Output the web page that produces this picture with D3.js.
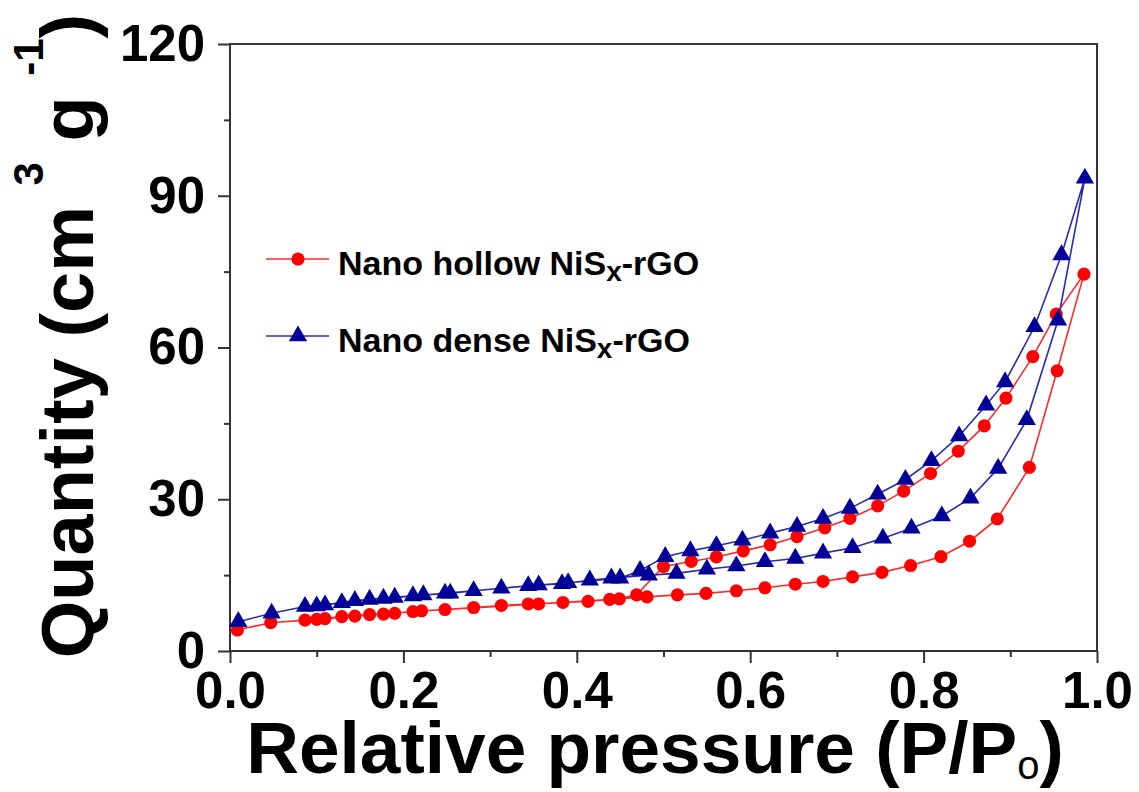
<!DOCTYPE html>
<html>
<head>
<meta charset="utf-8">
<script src="https://cdn.jsdelivr.net/npm/d3@7"></script>
<style>
  body { margin: 0; background: #fff; }
  svg { display: block; font-family: "Liberation Sans", Arial, sans-serif; }
  .tick text { font-weight: bold; fill: #000; }
</style>
</head>
<body>
<div id="chart"></div>
<script>
// Nano hollow NiSx-rGO, [P/Po, quantity]
const hollowAdsorption = [
  [0.0085, 4.15], [0.047, 5.6], [0.0865, 6.1], [0.1096, 6.4], [0.129, 6.8], [0.161, 7.2],
  [0.190, 7.45], [0.221, 7.95], [0.248, 8.2], [0.281, 8.6], [0.313, 9.0], [0.344, 9.3],
  [0.384, 9.6], [0.413, 9.8], [0.438, 10.2], [0.481, 10.7], [0.516, 11.1], [0.549, 11.4],
  [0.584, 11.9], [0.617, 12.5], [0.652, 13.2], [0.684, 13.75], [0.718, 14.65], [0.752, 15.55],
  [0.785, 16.9], [0.820, 18.65], [0.853, 21.7], [0.885, 26.1], [0.922, 36.3], [0.954, 55.4],
  [0.985, 74.5]
];
const hollowDesorption = [
  [0.953, 66.6], [0.926, 58.2], [0.895, 50.0], [0.870, 44.5], [0.840, 39.5], [0.808, 35.1],
  [0.777, 31.6], [0.747, 28.7], [0.715, 26.2], [0.686, 24.35], [0.654, 22.6], [0.623, 21.0],
  [0.592, 19.8], [0.561, 18.6], [0.532, 17.7], [0.500, 16.7], [0.469, 11.1], [0.449, 10.3],
  [0.356, 9.3], [0.211, 7.8], [0.177, 7.3], [0.144, 6.9], [0.100, 6.26]
];

// Nano dense NiSx-rGO
const denseAdsorption = [
  [0.0096, 5.8], [0.048, 7.45], [0.0865, 8.8], [0.1096, 9.1], [0.129, 9.55], [0.161, 10.2],
  [0.190, 10.6], [0.223, 11.1], [0.254, 11.4], [0.281, 11.9], [0.313, 12.4], [0.344, 12.9],
  [0.383, 13.3], [0.415, 14.0], [0.440, 14.4], [0.483, 15.0], [0.515, 15.35], [0.550, 16.15],
  [0.584, 16.8], [0.617, 17.65], [0.652, 18.3], [0.684, 19.35], [0.718, 20.4], [0.753, 22.3],
  [0.786, 24.25], [0.821, 26.7], [0.854, 30.2], [0.886, 36.1], [0.919, 45.7], [0.955, 65.4],
  [0.986, 93.45]
];
const denseDesorption = [
  [0.959, 78.3], [0.928, 64.1], [0.894, 53.2], [0.872, 48.6], [0.841, 42.5], [0.809, 37.6],
  [0.779, 33.9], [0.747, 31.0], [0.715, 28.2], [0.684, 26.2], [0.654, 24.6], [0.623, 23.3],
  [0.591, 21.9], [0.561, 20.8], [0.531, 19.8], [0.502, 18.65], [0.473, 15.9], [0.450, 14.4],
  [0.390, 13.5], [0.356, 13.05], [0.248, 11.4], [0.211, 10.9], [0.177, 10.4], [0.144, 9.95],
  [0.100, 8.9]
];

// Ticks
const xMajorTicks = [0, 0.2, 0.4, 0.6, 0.8, 1.0];
const xMinorTicks = [0.1, 0.3, 0.5, 0.7, 0.9];
const yMajorTicks = [0, 30, 60, 90, 120];
const yMinorTicks = [15, 45, 75, 105];

const margin = { top: 44, right: 42, bottom: 141, left: 230 },
      width = 867,
      height = 607;

const svg = d3.select('#chart')
    .append('svg')
    .attr('width', 1139)
    .attr('height', 792);

const g = svg.append('g')
    .attr('transform', 'translate(' + margin.left + ',' + margin.top + ')');

const xScale = d3.scaleLinear().domain([0, 1]).range([0, width]);
const yScale = d3.scaleLinear().domain([0, 120]).range([height, 0]);

// Axes
const xAxis = g.append('g')
    .attr('transform', 'translate(0,' + height + ')')
    .call(d3.axisBottom(xScale).tickValues(xMajorTicks).tickFormat(d3.format('.1f'))
        .tickSize(12).tickSizeOuter(0).tickPadding(9));
const xMinor = g.append('g')
    .attr('transform', 'translate(0,' + height + ')')
    .call(d3.axisBottom(xScale).tickValues(xMinorTicks).tickFormat('').tickSize(6).tickSizeOuter(0));
const yAxis = g.append('g')
    .call(d3.axisLeft(yScale).tickValues(yMajorTicks).tickFormat(d3.format('d'))
        .tickSize(12).tickSizeOuter(0).tickPadding(13));
const yMinor = g.append('g')
    .call(d3.axisLeft(yScale).tickValues(yMinorTicks).tickFormat('').tickSize(6).tickSizeOuter(0));

[xAxis, xMinor, yAxis, yMinor].forEach(a => {
    a.select('.domain').remove();
    a.selectAll('.tick line').attr('stroke', '#333').attr('stroke-width', 2);
});
xAxis.selectAll('.tick text').style('font-size', '51px');
yAxis.selectAll('.tick text').style('font-size', '51px');

// Frame
g.append('rect')
    .attr('width', width)
    .attr('height', height)
    .attr('fill', 'none')
    .attr('stroke', '#333')
    .attr('stroke-width', 2);

// Series
const series = [
    { name: 'hollow', ads: hollowAdsorption, des: hollowDesorption, line: '#ff2a2a', fill: '#ff0000', shape: d3.symbolCircle, size: 135 },
    { name: 'dense', ads: denseAdsorption, des: denseDesorption, line: '#2a2ab0', fill: '#000099', shape: d3.symbolTriangle, size: 145 }
];

const lineGen = d3.line()
    .x(d => xScale(d[0]))
    .y(d => yScale(d[1]));

series.forEach(s => {
    const all = s.ads.concat(s.des);
    g.append('path')
        .datum(all)
        .attr('d', lineGen)
        .attr('fill', 'none')
        .attr('stroke', s.line)
        .attr('stroke-width', 1.6);

    g.selectAll('.pt-' + s.name)
        .data(all)
        .join('path')
        .attr('class', 'pt-' + s.name)
        .attr('d', d3.symbol().type(s.shape).size(s.size))
        .attr('transform', d => 'translate(' + xScale(d[0]) + ',' + yScale(d[1]) + ')')
        .attr('fill', s.fill);
});

// Legend
const legend = [
    { s: series[0], label: 'Nano hollow NiS', y: 259 },
    { s: series[1], label: 'Nano dense NiS', y: 336 }
];
legend.forEach(l => {
    svg.append('line')
        .attr('x1', 266).attr('x2', 329)
        .attr('y1', l.y).attr('y2', l.y)
        .attr('stroke', l.s.line)
        .attr('stroke-width', 1.6);
    svg.append('path')
        .attr('d', d3.symbol().type(l.s.shape).size(l.s.size)())
        .attr('transform', 'translate(298,' + l.y + ')')
        .attr('fill', l.s.fill);
    const t = svg.append('text')
        .attr('x', 338)
        .attr('y', l.y + 16)
        .attr('font-size', 34)
        .attr('font-weight', 'bold');
    t.append('tspan').text(l.label);
    t.append('tspan').attr('font-size', 28).attr('dy', 6).text('x');
    t.append('tspan').attr('dy', -6).text('-rGO');
});

// Axis titles
const xTitle = svg.append('text')
    .attr('x', 655)
    .attr('y', 773)
    .attr('text-anchor', 'middle')
    .attr('font-size', 73)
    .attr('font-weight', 'bold');
xTitle.append('tspan').text('Relative pressure (P/P');
xTitle.append('tspan').attr('font-size', 40).attr('font-weight', 'normal').attr('dy', 6).text('o');
xTitle.append('tspan').attr('dy', -6).text(')');

const yTitle = svg.append('text')
    .attr('transform', 'translate(93,336) rotate(-90)')
    .attr('text-anchor', 'middle')
    .attr('font-size', 74)
    .attr('font-weight', 'bold');
yTitle.append('tspan').text('Quantity (cm ');
yTitle.append('tspan').attr('font-size', 42).attr('dy', -50).text('3');
yTitle.append('tspan').attr('dy', 50).text(' g ');
yTitle.append('tspan').attr('font-size', 42).attr('dy', -50).text('-1');
yTitle.append('tspan').attr('dy', 50).text(')');
</script>
</body>
</html>
